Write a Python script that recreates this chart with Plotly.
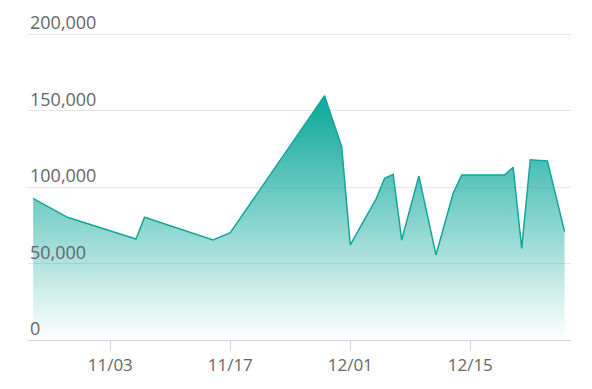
import plotly.graph_objects as go

dates = ["2019-10-25", "2019-10-29", "2019-11-06", "2019-11-07", "2019-11-15", "2019-11-17",
         "2019-11-28", "2019-11-30", "2019-12-01", "2019-12-04", "2019-12-05", "2019-12-06",
         "2019-12-07", "2019-12-09", "2019-12-11", "2019-12-13", "2019-12-14", "2019-12-19",
         "2019-12-20", "2019-12-21", "2019-12-22", "2019-12-24", "2019-12-26"]
values = [92600, 80200, 66000, 80200, 65400, 70100,
          159700, 126300, 62100, 92000, 105700, 108300,
          65400, 107200, 55600, 95900, 107800, 107800,
          112900, 59900, 117800, 117000, 70800]

tick_vals = ["2019-11-03", "2019-11-17", "2019-12-01", "2019-12-15"]
tick_text = ["11/03", "11/17", "12/01", "12/15"]
y_ticks = [0, 50000, 100000, 150000, 200000]

fig = go.Figure()
fig.add_trace(go.Scatter(
    x=dates, y=values, mode="lines",
    line=dict(color="rgb(20,166,154)", width=1.5),
    fill="tozeroy",
    fillgradient=dict(type="vertical", start=0, stop=150000,
                      colorscale=[[0, "rgba(23,172,160,0)"], [1, "rgba(23,172,160,1)"]]),
    hoverinfo="skip",
))

for v in y_ticks:
    fig.add_annotation(
        x=0, xref="paper", y=v, yref="y",
        text=f"{v:,}", showarrow=False,
        xanchor="left", yanchor="bottom", yshift=-2,
        font=dict(family="Open Sans", size=18, color="#666666"),
    )

fig.update_layout(
    width=592, height=389,
    margin=dict(l=28, r=21, t=10, b=49),
    paper_bgcolor="white", plot_bgcolor="white",
    showlegend=False,
    font=dict(family="Open Sans", size=17, color="#666666"),
    xaxis=dict(
        type="date",
        range=["2019-10-24 09:40", "2019-12-26 18:00"],
        tickvals=tick_vals, ticktext=tick_text,
        showgrid=False, zeroline=False,
        showline=True, linecolor="#ccd6eb", linewidth=1,
        ticks="outside", ticklen=10, tickcolor="#ccd6eb",
        tickfont=dict(family="Open Sans", size=17, color="#666666"),
    ),
    yaxis=dict(
        range=[0, 215686],
        tickvals=y_ticks, showticklabels=False,
        showgrid=True, gridcolor="#e6e6e6", gridwidth=1,
        zeroline=False, showline=False,
    ),
)

fig.write_html("out.html")
